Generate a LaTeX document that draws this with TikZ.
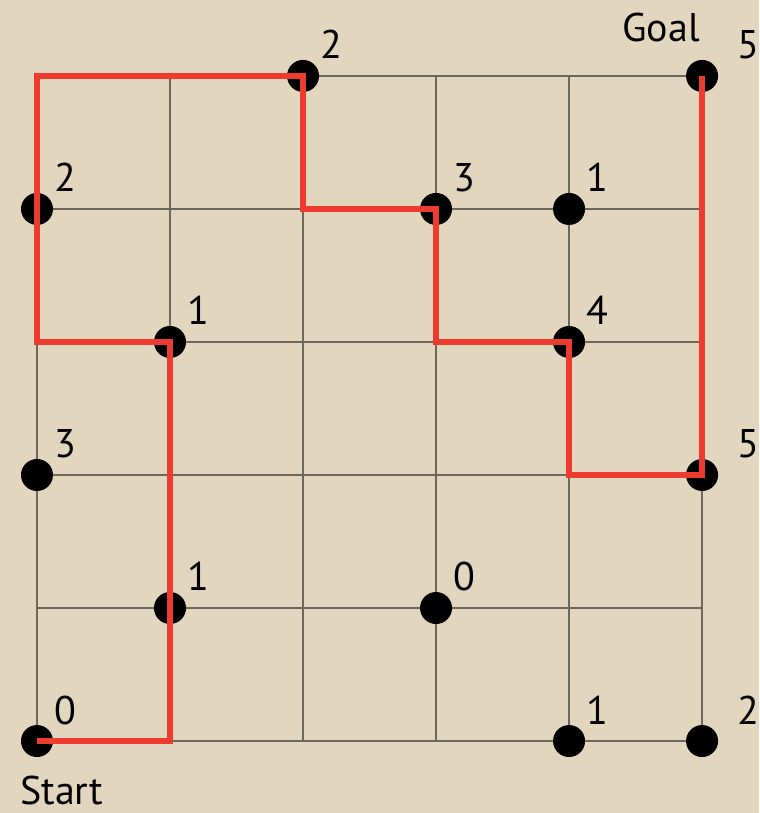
\documentclass[tikz,border=0pt]{standalone}
\usepackage{fontspec}
\setmainfont{PT Sans}
\definecolor{parchment}{HTML}{E3D6BF}
\definecolor{gridgray}{HTML}{6E675C}
\definecolor{routered}{HTML}{EE3B30}
\begin{document}
\begin{tikzpicture}[
    x=99.75pt, y=99.75pt,
    dot/.style={circle, fill=black, inner sep=0pt, minimum size=24pt},
    num/.style={font=\fontsize{30}{30}\selectfont, anchor=base west, inner sep=0pt},
    tag/.style={font=\fontsize{30}{30}\selectfont, inner sep=0pt},
    route/.style={draw=routered, line width=4pt, line join=miter},
  ]
    % Background
    \fill[parchment] (-0.278,-0.541) rectangle (5.429,5.571);
    \useasboundingbox (-0.278,-0.541) rectangle (5.429,5.571);

    % Grid
    \draw[gridgray, line width=1.5pt, step={(1,1)}] (0,0) grid (5,5);

    % Dots
    \node[dot] (start) at (0,0) {};
    \node[dot] (d40) at (4,0) {};
    \node[dot] (d50) at (5,0) {};
    \node[dot] (d11) at (1,1) {};
    \node[dot] (d31) at (3,1) {};
    \node[dot] (d02) at (0,2) {};
    \node[dot] (d52) at (5,2) {};
    \node[dot] (d13) at (1,3) {};
    \node[dot] (d43) at (4,3) {};
    \node[dot] (d04) at (0,4) {};
    \node[dot] (d34) at (3,4) {};
    \node[dot] (d44) at (4,4) {};
    \node[dot] (d25) at (2,5) {};
    \node[dot] (goal) at (5,5) {};

    % Values
    \node[num] (v-start) at (0.128,0.128) {0};
    \node[num] (v40) at (4.128,0.128) {1};
    \node[num] (v50) at (5.263,0.128) {2};
    \node[num] (v11) at (1.128,1.128) {1};
    \node[num] (v31) at (3.128,1.128) {0};
    \node[num] (v02) at (0.128,2.128) {3};
    \node[num] (v52) at (5.263,2.128) {5};
    \node[num] (v13) at (1.128,3.128) {1};
    \node[num] (v43) at (4.128,3.128) {4};
    \node[num] (v04) at (0.128,4.128) {2};
    \node[num] (v34) at (3.128,4.128) {3};
    \node[num] (v44) at (4.128,4.128) {1};
    \node[num] (v25) at (2.128,5.128) {2};
    \node[num] (v-goal) at (5.263,5.128) {5};

    % Start / Goal
    \node[tag, anchor=base west] (t-start) at (-0.128,-0.48) {Start};
    \node[tag, anchor=base east] (t-goal) at (4.985,5.256) {Goal};

    % Route
    \coordinate (c10) at (1,0);
    \coordinate (c03) at (0,3);
    \coordinate (c05) at (0,5);
    \coordinate (c24) at (2,4);
    \coordinate (c33) at (3,3);
    \coordinate (c42) at (4,2);
    \draw[route] (start.center) -- (c10) -- (d13.center) -- (c03) -- (c05)
      -- (d25.center) -- (c24) -- (d34.center) -- (c33) -- (d43.center)
      -- (c42) -- (d52.center) -- (goal.center);
  \end{tikzpicture}
\end{document}
